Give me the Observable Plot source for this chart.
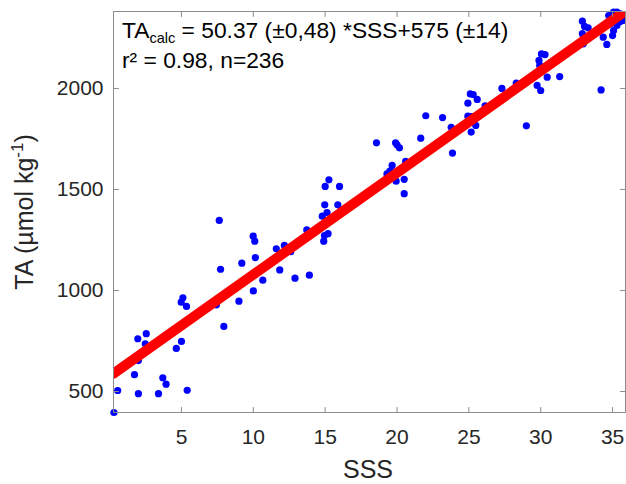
<!DOCTYPE html>
<html><head><meta charset="utf-8">
<script src="https://cdn.jsdelivr.net/npm/d3@7"></script>
<script src="https://cdn.jsdelivr.net/npm/@observablehq/plot@0.6"></script>
<style>body{margin:0;background:#fff;} svg{display:block;}</style>
</head><body><div id="chart"></div>
<script>
// Observed salinity (SSS) values
const sss = [0.3,0.56,2.0,3.4,5.4,1.73,3.7,3.93,2.0,1.96,2.55,2.48,4.64,5.0,5.1,4.98,5.35,7.95,7.43,9.0,
  7.63,7.72,9.2,9.99,10.1,10.14,10.66,10.0,11.6,12.16,12.6,11.84,12.9,13.9,13.72,14.97,15.13,14.8,15.88,15.2,
  14.9,14.95,16.1,15.0,15.26,16.0,18.57,19.9,20.17,20.0,19.66,19.5,19.94,20.5,20.5,20.6,21.65,22.0,19.3,23.17,
  23.77,23.86,24.93,25.1,25.3,25.58,24.93,25.16,25.48,25.16,26.13,27.3,29.0,28.3,29.75,30.0,34.2,29.88,30.05,30.3,
  29.93,30.45,31.32,32.9,33.05,32.9,33.3,32.96,34.35,34.6,35.0,34.73,35.07,35.3,35.53,35.76,34.84,35.3,35.07,35.76,35.5];
// Observed total alkalinity (TA) values
const ta = [396,505,489,489,506,583,568,536,653,761,786,736,713,748,964,942,921,822,929,947,
  1347,1105,1135,1269,1244,1163,1051,998,1206,1223,1192,1102,1061,1076,1300,1424,1386,1368,1424,1281,
  1244,1272,1396,1515,1548,1515,1731,1731,1706,1721,1619,1591,1541,1550,1479,1639,1754,1865,1577,1856,
  1808,1680,1927,1973,1970,1946,1863,1861,1817,1784,1914,2000,1815,2026,2015,1990,1993,2139,2171,2168,
  2114,2056,2059,2333,2307,2271,2300,2221,2254,2218,2262,2361,2378,2378,2369,2337,2320,2312,2287,2352,2330];
const xTicks = [5,10,15,20,25,30,35];
const yTicks = [500,1000,1500,2000];
const slope = 50.37, intercept = 575;
const xLimits = [0.27, 35.9];
const yLimits = [396, 2381];

const points = sss.map((s,i) => ({sss: s, ta: ta[i]}));
const fit = xLimits.map(s => ({sss: s, ta: slope*s + intercept}));

const axisColor = "#8c8c8c", textColor = "#262626";
const font = "'Liberation Sans', Arial, sans-serif";
// straight inward tick shape for Plot.vector
const tickShape = {draw(context, l) { context.moveTo(0, 0); context.lineTo(0, -l); }};
const tickMark = (data, opts) => Plot.vector(data, {length: 5, anchor: "start", shape: tickShape, stroke: axisColor, strokeWidth: 1, ...opts});

const svg = Plot.plot({
  width: 626, height: 484,
  marginLeft: 113, marginRight: 1, marginTop: 11, marginBottom: 72,
  style: {fontFamily: font, background: "#fff"},
  x: {domain: xLimits},
  y: {domain: yLimits},
  marks: [
    Plot.dot(points, {x: "sss", y: "ta", r: 3.6, fill: "#0000ff", stroke: "none"}),
    Plot.line(fit, {x: "sss", y: "ta", stroke: "#ff0000", strokeWidth: 10, clip: true}),
    Plot.frame({stroke: axisColor}),
    tickMark(xTicks, {x: d => d, y: yLimits[0], rotate: 0}),
    tickMark(xTicks, {x: d => d, y: yLimits[1], rotate: 180}),
    tickMark(yTicks, {y: d => d, x: xLimits[0], rotate: 90}),
    tickMark(yTicks, {y: d => d, x: xLimits[1], rotate: -90}),
    Plot.axisX(xTicks, {anchor: "bottom", tickSize: 0, tickPadding: 17, fontSize: 21, label: null, fill: textColor, tickFormat: d3.format("d")}),
    Plot.axisY(yTicks, {anchor: "left", tickSize: 0, tickPadding: 10, fontSize: 21, label: null, fill: textColor, tickFormat: d3.format("d")})
  ]
});

const s = d3.select(svg);
// Fit annotation
const t1 = s.append("text").attr("x", 122).attr("y", 38).attr("text-anchor", "start").attr("font-size", 22.8).attr("fill", "#000").attr("font-family", font);
t1.append("tspan").text("TA");
t1.append("tspan").attr("font-size", 14.5).attr("dy", 5).text("calc");
t1.append("tspan").attr("dy", -5).text(" = 50.37 (±0,48) *SSS+575 (±14)");
s.append("text").attr("x", 122).attr("y", 68).attr("text-anchor", "start").attr("font-size", 22.8).attr("fill", "#000").attr("font-family", font)
  .text("r² = 0.98, n=236");
// Axis labels
s.append("text").attr("x", 368).attr("y", 478).attr("text-anchor", "middle").attr("font-size", 25)
  .attr("fill", textColor).attr("font-family", font).text("SSS");
const yl = s.append("text").attr("transform", "translate(33,212) rotate(-90)").attr("text-anchor", "middle")
  .attr("font-size", 25).attr("fill", textColor).attr("font-family", font);
yl.append("tspan").text("TA (µmol kg");
yl.append("tspan").attr("font-size", 17).attr("dy", -10).text("-1");
yl.append("tspan").attr("dy", 10).text(")");

document.getElementById("chart").appendChild(svg);
</script>
</body></html>
